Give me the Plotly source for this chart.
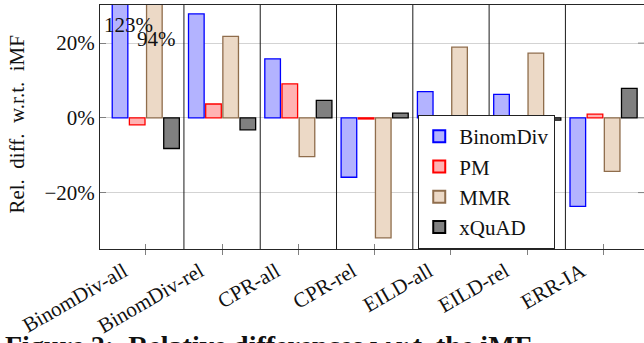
import plotly.graph_objects as go

CATEGORIES = ["BinomDiv-all", "BinomDiv-rel", "CPR-all", "CPR-rel", "EILD-all", "EILD-rel", "ERR-IA"]
BINOMDIV = [123.0, 27.8, 15.8, -15.9, 7.0, 6.3, -23.7]
PM = [-1.9, 3.7, 9.1, -0.3, -0.9, -1.2, 1.0]
MMR = [94.0, 21.8, -10.4, -32.1, 18.9, 17.3, -14.3]
XQUAD = [-8.2, -3.2, 4.7, 1.25, -0.6, -0.6, 7.9]
SERIES_NAMES = ["BinomDiv", "PM", "MMR", "xQuAD"]
Y_TICKS = [-20, 0, 20]
Y_TICK_LABELS = ["\u221220%", "0%", "20%"]
Y_RANGE = [-35.1, 30.2]
X_RANGE = [-0.6, 6.53]
Y_TITLE = "Rel.  diff.  w.r.t.  iMF"
CAPTION = "<b>Figure 2:  Relative differences w.r.t. the iMF</b>"

FONT = "Liberation Serif"
FS = 21
fills = ["#b3b3ff", "#ffb3b3", "#ecd9c6", "#808080"]
lines = ["#0000ff", "#ff0000", "#8f6d4c", "#000000"]

fig = go.Figure()
for name, vals, fc, lc in zip(SERIES_NAMES, [BINOMDIV, PM, MMR, XQUAD], fills, lines):
    fig.add_trace(go.Bar(x=CATEGORIES, y=vals, name=name,
                         marker=dict(color=fc, line=dict(color=lc, width=1.3))))

# helper trace for inward x ticks overlay axis
fig.add_trace(go.Scatter(x=CATEGORIES, y=[None] * len(CATEGORIES), xaxis="x2",
                         showlegend=False, hoverinfo="skip"))

shapes = []
for i in range(len(CATEGORIES) - 1):
    shapes.append(dict(type="line", xref="x", yref="paper", x0=i + 0.5, x1=i + 0.5,
                       y0=0, y1=1, line=dict(color="#1a1a1a", width=1)))
for t in Y_TICKS:
    shapes.append(dict(type="line", xref="paper", yref="y", x0=0.989, x1=1.0,
                       y0=t, y1=t, line=dict(color="#808080", width=1)))

annotations = [
    dict(text=Y_TITLE, xref="paper", yref="paper", x=0, y=0.51, xshift=-83,
         textangle=-90, showarrow=False, font=dict(family=FONT, size=FS, color="#111"),
         xanchor="center", yanchor="middle"),
    dict(text=CAPTION, xref="paper", yref="paper", x=0, y=0, xshift=-97, yshift=-79,
         showarrow=False, xanchor="left", yanchor="top",
         font=dict(family=FONT, size=28, color="#111")),
]
# out-of-range value labels
annotations.append(dict(text=f"{BINOMDIV[0]:.0f}%", x=CATEGORIES[0], y=24.8, xref="x", yref="y",
                        xshift=-17, showarrow=False, font=dict(family=FONT, size=FS, color="#111")))
annotations.append(dict(text=f"{MMR[0]:.0f}%", x=CATEGORIES[0], y=21.2, xref="x", yref="y",
                        xshift=10.5, showarrow=False, font=dict(family=FONT, size=FS, color="#111")))

fig.update_layout(
    width=644, height=343,
    margin=dict(l=100, r=0, t=5, b=94),
    paper_bgcolor="white", plot_bgcolor="white",
    barmode="group", bargap=0.1, bargroupgap=0.09,
    font=dict(family=FONT, size=FS, color="#111"),
    showlegend=True,
    legend=dict(x=0.585, y=0, xanchor="left", yanchor="bottom",
                bgcolor="white", bordercolor="#222", borderwidth=1,
                font=dict(family=FONT, size=FS, color="#111"),
                tracegroupgap=0, itemsizing="constant"),
    xaxis=dict(type="category", range=X_RANGE, ticks="outside", ticklen=5,
               tickcolor="#808080", tickangle=-30, showline=True, mirror=True,
               linecolor="#262626", linewidth=1, showgrid=False, automargin=False,
               ticklabelstandoff=-4, ticklabelshift=-22,
               tickfont=dict(family=FONT, size=FS, color="#111")),
    xaxis2=dict(type="category", overlaying="x", matches="x", anchor="y",
                ticks="inside", ticklen=5, tickcolor="#808080", automargin=False,
                showticklabels=False, showgrid=False, showline=False, side="bottom"),
    yaxis=dict(range=Y_RANGE, tickvals=Y_TICKS, ticktext=Y_TICK_LABELS,
               ticks="inside", ticklen=6, tickcolor="#808080", automargin=False,
               showgrid=True, gridcolor="#d3d3d3", gridwidth=1, zeroline=False,
               showline=True, linecolor="#262626", linewidth=1,
               tickfont=dict(family=FONT, size=FS, color="#111")),
    shapes=shapes,
    annotations=annotations,
)

fig.write_html("out.html", config={"displayModeBar": False},
               post_script="document.body.style.margin='0';document.body.style.padding='0';")
